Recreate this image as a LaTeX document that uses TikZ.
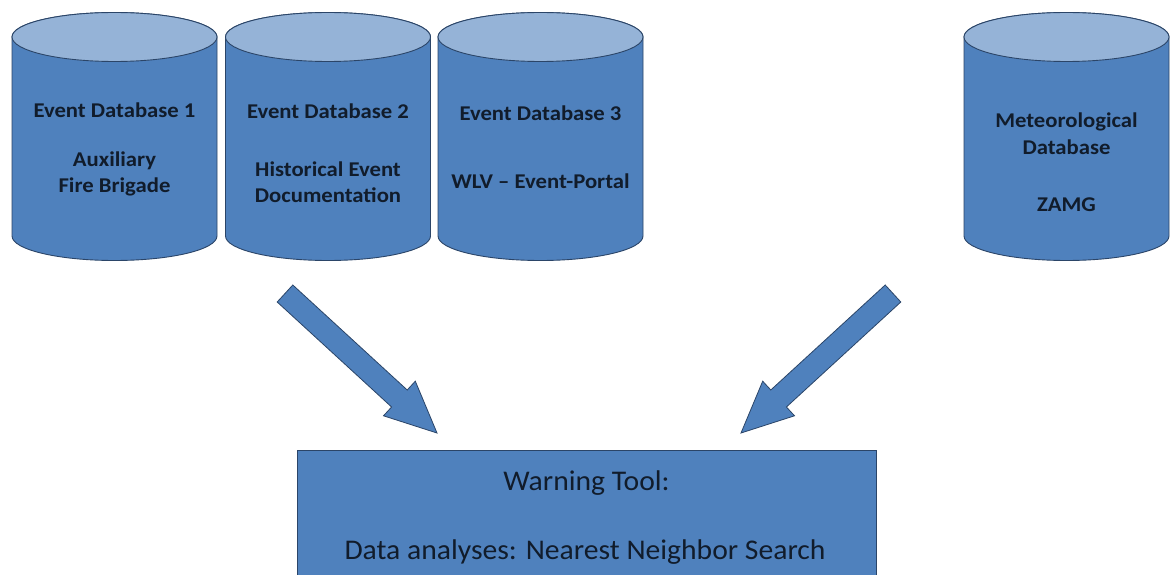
\documentclass[tikz,border=0pt]{standalone}
\usepackage{fontspec}
\setmainfont{Carlito}
\newfontfamily\dbfont[FakeStretch=1.08]{Carlito}
\newfontfamily\boxfont[FakeStretch=1.04]{Carlito}
\definecolor{bodyblue}{HTML}{4F81BD}
\definecolor{lidblue}{HTML}{95B3D7}
\definecolor{edgeblue}{HTML}{2B4568}
\definecolor{inkdark}{HTML}{111C2B}
\tikzset{
  body/.style={fill=bodyblue, draw=edgeblue, line width=0.9pt},
  lid/.style={fill=lidblue, draw=edgeblue, line width=0.9pt},
  dbtext/.style={inner sep=0pt, text=inkdark, font=\dbfont\bfseries\fontsize{21}{25}\selectfont},
  boxtext/.style={inner sep=0pt, text=inkdark, font=\boxfont\fontsize{28.5}{34}\selectfont},
  blockarrow/.style={fill=bodyblue, draw=edgeblue, line width=0.8pt, line join=miter},
  toolbox/.style={fill=bodyblue, draw=edgeblue, line width=0.9pt}
}
\begin{document}
\begin{tikzpicture}[x=1pt,y=-1pt]
\clip (0,0) rectangle (1170,575);
\fill[white] (0,0) rectangle (1170,575);
% cylinders
\foreach \cx/\nm in {114.5/c1, 328/c2, 540.5/c3, 1066.5/c4} {
  \draw[body] (\cx-102.5,37) -- (\cx-102.5,236)
     arc[start angle=180, end angle=360, x radius=102.5pt, y radius=24.5pt]
     -- (\cx+102.5,37)
     arc[start angle=0, end angle=180, x radius=102.5pt, y radius=24.5pt] -- cycle;
  \draw[lid] (\cx,37) ellipse[x radius=102.5pt, y radius=24.5pt];
  \coordinate (\nm) at (\cx,136);
}
% cylinder texts
\node[dbtext, anchor=base] (c1a) at (114.5,118) {Event Database 1};
\node[dbtext, anchor=base] (c1b) at (114.5,167) {Auxiliary};
\node[dbtext, anchor=base] (c1c) at (114.5,192) {Fire Brigade};
\node[dbtext, anchor=base] (c2a) at (328,119) {Event Database 2};
\node[dbtext, anchor=base] (c2b) at (328,176) {Historical Event};
\node[dbtext, anchor=base] (c2c) at (328,202) {Documentation};
\node[dbtext, anchor=base] (c3a) at (540.5,121) {Event Database 3};
\node[dbtext, anchor=base] (c3b) at (540.5,189) {WLV – Event-Portal};
\node[dbtext, anchor=base] (c4a) at (1066.5,128) {Meteorological};
\node[dbtext, anchor=base] (c4b) at (1066.5,154) {Database};
\node[dbtext, anchor=base] (c4c) at (1066.5,211) {ZAMG};
% warning tool box
\draw[toolbox] (297,450) rectangle (876,600);
\coordinate (box) at (586.5,450);
\node[boxtext, anchor=base] (w1) at (586.5,490) {Warning Tool:};
\node[boxtext, anchor=base] (w2) at (585,559) {Data analyses: Nearest Neighbor Search};
% block arrows
\draw[blockarrow] (277.2,302) -- (391.6,407) -- (383.5,415.8) -- (437,433)
   -- (415.3,381.2) -- (407.2,390) -- (292.8,285) -- cycle;
\draw[blockarrow] (900.8,302) -- (786.4,407) -- (794.5,415.8) -- (741,433)
   -- (762.7,381.2) -- (770.8,390) -- (885.2,285) -- cycle;
\end{tikzpicture}
\end{document}
